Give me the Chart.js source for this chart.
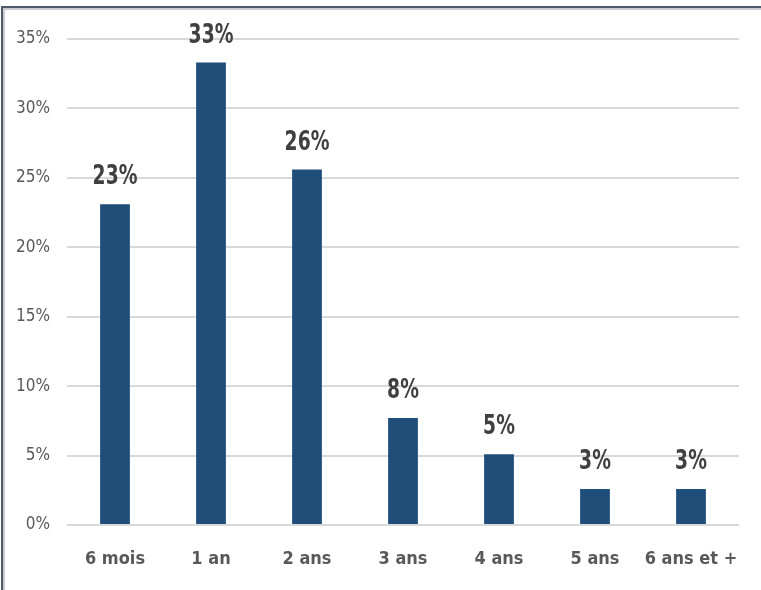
<!DOCTYPE html>
<html>
<head>
<meta charset="utf-8">
<script src="https://cdn.jsdelivr.net/npm/chart.js@4/dist/chart.umd.min.js"></script>
<style>
  html, body { margin: 0; padding: 0; background: #ffffff; }
  #wrap { position: relative; width: 761px; height: 590px; overflow: hidden; }
  #frame {
    position: absolute; left: 1px; top: 6px; right: -10px; bottom: -10px;
    border-left: 2px solid #4f5b6b; border-top: 2px solid #4f5b6b;
    box-shadow: inset 2px 2px 0 #c9cdd3;
    pointer-events: none;
  }
  canvas { position: absolute; left: 0; top: 0; }
</style>
</head>
<body>
<div id="wrap">
  <canvas id="chart" width="761" height="590"></canvas>
  <div id="frame"></div>
</div>
<script>
// Ancienneté : répartition en pourcentage
const categories = ['6 mois', '1 an', '2 ans', '3 ans', '4 ans', '5 ans', '6 ans et +'];
const shares = [23.1, 33.3, 25.6, 7.7, 5.1, 2.6, 2.6];
const yTicks = [0, 5, 10, 15, 20, 25, 30, 35];

const FONT = '"Liberation Sans Narrow", "DejaVu Sans Condensed", "Liberation Sans", sans-serif';

// Percentage written above each bar, rounded from its own value,
// in a tall, narrow bold face
const barLabels = {
  id: 'barLabels',
  afterDatasetsDraw(chart) {
    const ctx = chart.ctx;
    const meta = chart.getDatasetMeta(0);
    const squeeze = 0.8;
    ctx.save();
    ctx.font = 'bold 26px ' + FONT;
    ctx.fillStyle = '#404040';
    ctx.textAlign = 'center';
    ctx.textBaseline = 'alphabetic';
    meta.data.forEach((bar, i) => {
      ctx.save();
      ctx.translate(bar.x, bar.y - 20);
      ctx.scale(squeeze, 1);
      ctx.fillText(Math.round(shares[i]) + '%', 0, 0);
      ctx.restore();
    });
    ctx.restore();
  }
};

new Chart(document.getElementById('chart'), {
  type: 'bar',
  data: {
    labels: categories,
    datasets: [{
      data: shares,
      backgroundColor: '#1f4e79',
      borderWidth: 0,
      barPercentage: 0.31,
      categoryPercentage: 1
    }]
  },
  options: {
    responsive: false,
    animation: false,
    events: [],
    layout: { padding: { left: 0, right: 22, top: 39, bottom: 0 } },
    plugins: { legend: { display: false }, tooltip: { enabled: false } },
    scales: {
      x: {
        grid: { display: false, drawTicks: false },
        border: { display: false },
        ticks: {
          color: '#595959',
          font: { family: FONT, size: 18, weight: 'bold' },
          padding: 24,
          maxRotation: 0,
          autoSkip: false
        },
        afterFit(scale) {
          scale.height = 65;
          scale.paddingLeft = 0;
          scale.paddingRight = 0;
        }
      },
      y: {
        min: 0,
        max: 35,
        afterBuildTicks(scale) { scale.ticks = yTicks.map(v => ({ value: v })); },
        grid: { color: '#d9d9d9', lineWidth: 2, drawTicks: false },
        border: { display: false },
        ticks: {
          color: '#595959',
          font: { family: FONT, size: 17 },
          padding: 17,
          callback: v => v + '%'
        },
        afterFit(scale) { scale.width = 67; }
      }
    }
  },
  plugins: [barLabels]
});
</script>
</body>
</html>
